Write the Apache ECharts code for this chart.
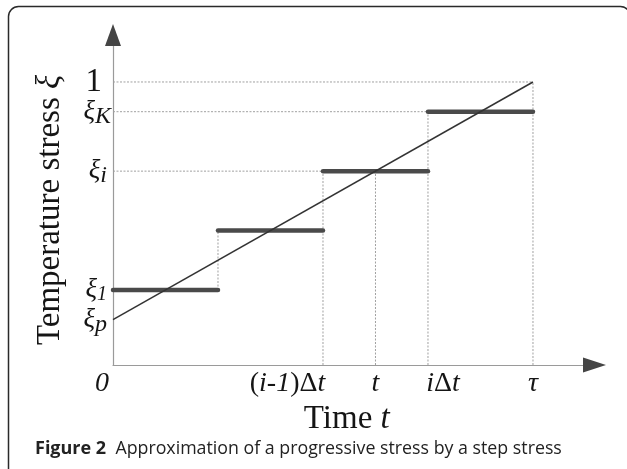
<!DOCTYPE html>
<html><head><meta charset="utf-8">
<script src="https://cdn.jsdelivr.net/npm/echarts@6/dist/echarts.min.js"></script>
<style>html,body{margin:0;padding:0;background:#fff}#c{width:627px;height:469px}</style>
</head><body><div id="c"></div>
<script>
// ---- data ----
const xTickValues = [0, 2, 2.5, 3, 4];
const xTickLabels = ['0', '(i-1)Δt', 't', 'iΔt', 'τ'];
const yTickValues = [0.16, 0.265, 0.685, 0.895, 1];
const yTickLabels = ['ξp', 'ξ1', 'ξi', 'ξK', '1'];
const rampX = [0, 4];
const rampY = [0.16, 1];
const stepStarts = [0, 1, 2, 3];
const stepEnds = [1, 2, 3, 4];
const stepLevels = [0.265, 0.475, 0.685, 0.895];
// dotted guides: [x1, y1, x2, y2]
const guides = [
  [0, 1, 4, 1], [4, 0, 4, 1],
  [0, 0.895, 3, 0.895], [3, 0, 3, 0.895],
  [0, 0.685, 2, 0.685], [2, 0, 2, 0.685],
  [2.5, 0, 2.5, 0.685], [1, 0.265, 1, 0.475]
];
const xMax = 4.586, yMax = 1.166;

// ---- rich markup for math-style labels ----
const xMarkup = {
  '0': '{z|0}',
  '(i-1)Δt': '{p|(}{it|i-1}{p|)Δ}{itr|t}',
  't': '{it|t}',
  'iΔt': '{itl|i}{p|Δ}{it|t}',
  'τ': '{tau|τ}'
};
const yMarkup = {
  'ξp': '{xi|ξ}{sub|p}{pr|}',
  'ξ1': '{xi|ξ}{subs|1}{pr|}',
  'ξi': '{xi|ξ}{sub|i}{pr|}',
  'ξK': '{xi|ξ}{sub|K}',
  '1': '{one|1}'
};
const SERIF = 'Liberation Serif';
const C = '#151515';

// split y labels over two coincident axes so that neighbours never collide
const yValsA = yTickValues.filter((v, i) => i % 2 === 0);
const yValsB = yTickValues.filter((v, i) => i % 2 === 1);

const chart = echarts.init(document.getElementById('c'));
const lineSeg = (api, x1, y1, x2, y2, style) => {
  const a = api.coord([x1, y1]), b = api.coord([x2, y2]);
  return { type: 'line', shape: { x1: a[0], y1: a[1], x2: b[0], y2: b[1] }, style };
};
const yLabel = (vals) => ({
  customValues: vals, margin: 2, hideOverlap: false,
  showMinLabel: true, showMaxLabel: true,
  formatter: (v) => { const i = yTickValues.indexOf(v); return i < 0 ? '' : yMarkup[yTickLabels[i]]; },
  rich: {
    xi: { fontFamily: SERIF, fontStyle: 'italic', fontSize: 27, color: C, verticalAlign: 'middle', lineHeight: 20 },
    sub: { fontFamily: SERIF, fontStyle: 'italic', fontSize: 24, color: C, verticalAlign: 'middle', lineHeight: 20, padding: [10, 0, 0, 0] },
    subs: { fontFamily: SERIF, fontStyle: 'italic', fontSize: 20, color: C, verticalAlign: 'middle', lineHeight: 20, padding: [10, 0, 0, 0] },
    pr: { fontSize: 10, lineHeight: 20, padding: [0, 4, 0, 0] },
    one: { fontFamily: SERIF, fontSize: 33, color: C, verticalAlign: 'middle', lineHeight: 20, padding: [0, 9, 0, 0] }
  }
});

chart.setOption({
  animation: false,
  backgroundColor: '#fff',
  title: {
    left: 35, top: 440, padding: 0,
    text: '{b|Figure 2}{r|  Approximation of a progressive stress by a step stress}',
    textStyle: {
      fontWeight: 'normal',
      rich: {
        b: { fontFamily: 'Open Sans', fontWeight: 'bold', fontSize: 18, color: '#222' },
        r: { fontFamily: 'Open Sans', fontWeight: 'normal', fontSize: 17.8, color: '#222' }
      }
    }
  },
  graphic: [{
    type: 'rect', z: 100,
    shape: { x: 8.5, y: 6.5, width: 622, height: 480, r: 10 },
    style: { fill: 'none', stroke: '#2a2a2a', lineWidth: 1.5 }
  }],
  grid: { left: 113, right: 627 - 594.5, top: 35, bottom: 104 },
  xAxis: [{
    type: 'value', min: 0, max: xMax,
    splitLine: { show: false },
    axisTick: { show: false },
    axisLine: { lineStyle: { color: '#9a9a9a', width: 1.2 } },
    name: 'Time {it|t}', nameLocation: 'middle', nameGap: 38,
    nameTextStyle: {
      fontFamily: SERIF, fontSize: 33, color: C, padding: [0, 14, 0, 0],
      rich: { it: { fontFamily: SERIF, fontStyle: 'italic', fontSize: 33, color: C } }
    },
    axisLabel: {
      customValues: xTickValues, margin: 5, hideOverlap: false,
      showMinLabel: true, showMaxLabel: true,
      formatter: (v) => { const i = xTickValues.indexOf(v); return i < 0 ? '' : xMarkup[xTickLabels[i]]; },
      rich: {
        z: { fontFamily: SERIF, fontStyle: 'italic', fontSize: 28, color: C, padding: [0, 22, 0, 0] },
        p: { fontFamily: SERIF, fontSize: 28, color: C },
        it: { fontFamily: SERIF, fontStyle: 'italic', fontSize: 28, color: C },
        itr: { fontFamily: SERIF, fontStyle: 'italic', fontSize: 28, color: C, padding: [0, 71, 0, 0] },
        itl: { fontFamily: SERIF, fontStyle: 'italic', fontSize: 28, color: C, padding: [0, 0, 0, 30] },
        tau: { fontFamily: SERIF, fontStyle: 'italic', fontSize: 28, color: C, padding: [0, 0, 6, 0] }
      }
    }
  }, {
    type: 'value', min: 0, max: xMax, position: 'bottom',
    splitLine: { show: false }, axisTick: { show: false }, axisLabel: { show: false },
    axisLine: { symbol: ['none', 'triangle'], symbolSize: [15, 23], lineStyle: { color: '#454545', opacity: 0 } }
  }],
  yAxis: [{
    type: 'value', min: 0, max: yMax,
    splitLine: { show: false },
    axisTick: { show: false },
    axisLine: { lineStyle: { color: '#9a9a9a', width: 1.2 } },
    name: 'Temperature stress {it|ξ}', nameLocation: 'middle', nameGap: 46,
    nameTextStyle: {
      fontFamily: SERIF, fontSize: 33, color: C, padding: [0, 20, 0, 0],
      rich: { it: { fontFamily: SERIF, fontStyle: 'italic', fontSize: 33, color: C } }
    },
    axisLabel: yLabel(yValsA)
  }, {
    type: 'value', min: 0, max: yMax, position: 'left',
    splitLine: { show: false }, axisTick: { show: false },
    axisLabel: yLabel(yValsB),
    axisLine: { symbol: ['none', 'triangle'], symbolSize: [16, 22], lineStyle: { color: '#454545', opacity: 0 } }
  }],
  series: [{
    type: 'custom', name: 'guides', z: 2,
    data: guides,
    renderItem: (params, api) => {
      const g = guides[params.dataIndex];
      return lineSeg(api, g[0], g[1], g[2], g[3], { stroke: '#a0a0a0', lineWidth: 1, lineDash: [2, 1.5] });
    }
  }, {
    type: 'line', name: 'progressive', z: 4,
    data: rampX.map((x, i) => [x, rampY[i]]),
    symbol: 'none',
    lineStyle: { color: '#333', width: 1.5 }
  }, {
    type: 'custom', name: 'steps', z: 3,
    data: stepLevels.map((y, i) => [stepStarts[i], y, stepEnds[i]]),
    renderItem: (params, api) => {
      const i = params.dataIndex;
      return lineSeg(api, stepStarts[i], stepLevels[i], stepEnds[i], stepLevels[i], { stroke: '#4a4a4a', lineWidth: 4.5, lineCap: 'round' });
    }
  }]
});
</script></body></html>
